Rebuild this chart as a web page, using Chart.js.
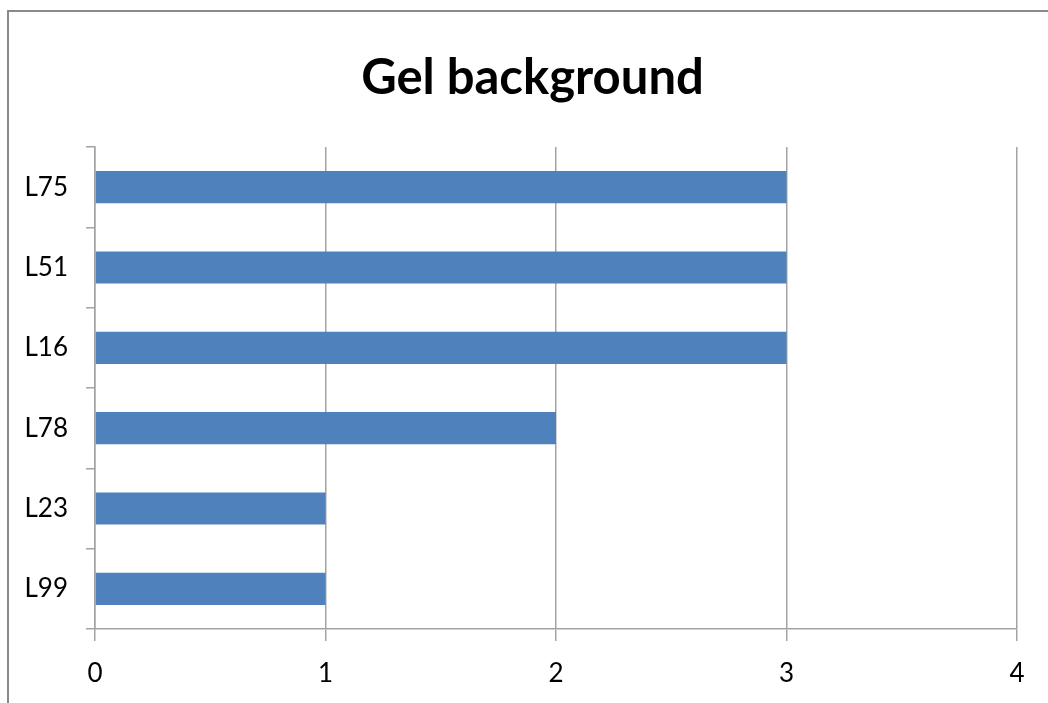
<!DOCTYPE html>
<html>
<head>
<meta charset="utf-8">
<script src="https://cdn.jsdelivr.net/npm/chart.js@4"></script>
<style>
  html, body { margin: 0; padding: 0; background: #fff; overflow: hidden; }
  #wrap { position: relative; width: 1048px; height: 703px; }
  #frame { position: absolute; left: 7px; top: 10px; width: 1100px; height: 800px; border: 2px solid #8a8a8a; box-sizing: border-box; }
  canvas { position: absolute; left: 0; top: 0; }
</style>
</head>
<body>
<div id="wrap">
  <div id="frame"></div>
  <canvas id="gelChart" width="1048" height="703"></canvas>
</div>
<script>
// dados do gráfico
const labels = ['L75', 'L51', 'L16', 'L78', 'L23', 'L99'];
const values = [3, 3, 3, 2, 1, 1];
const xTicks = [0, 1, 2, 3, 4];

const barColor = '#4F81BD';
const gridColor = '#a3a3a3';

const ctx = document.getElementById('gelChart').getContext('2d');
const gelChart = new Chart(ctx, {
  type: 'bar',
  data: {
    labels: labels,
    datasets: [{
      label: 'Gel background',
      data: values,
      backgroundColor: barColor,
      borderWidth: 0,
      barPercentage: 0.4,
      categoryPercentage: 1.0
    }]
  },
  options: {
    indexAxis: 'y',
    responsive: false,
    animation: false,
    // título centralizado em 17..1048, como no original
    layout: { padding: { left: 17, right: 0, top: 0, bottom: 0 } },
    plugins: {
      legend: { display: false },
      tooltip: { enabled: false },
      title: {
        display: true,
        text: 'Gel background',
        color: '#000',
        font: { family: 'Lato', weight: 'bold', size: 49, lineHeight: 1.2 },
        padding: { top: 48.6, bottom: 39.6 }
      }
    },
    scales: {
      x: {
        min: xTicks[0],
        max: xTicks[xTicks.length - 1],
        afterBuildTicks: (scale) => { scale.ticks = xTicks.map(v => ({ value: v })); },
        afterFit: (scale) => { scale.height = 74; scale.paddingRight = 31; },
        grid: { color: gridColor, lineWidth: 1.5, tickLength: 12, drawTicks: true },
        border: { color: gridColor, width: 1.5 },
        ticks: {
          color: '#000',
          padding: 17,
          font: { family: 'Lato', size: 26 }
        }
      },
      y: {
        afterFit: (scale) => { scale.width = 78; },
        grid: { offset: true, drawOnChartArea: false, color: gridColor, lineWidth: 1.5, tickLength: 9 },
        border: { color: gridColor, width: 1.5 },
        ticks: {
          color: '#000',
          padding: 18,
          font: { family: 'Lato', size: 26 }
        }
      }
    }
  }
});
</script>
</body>
</html>
